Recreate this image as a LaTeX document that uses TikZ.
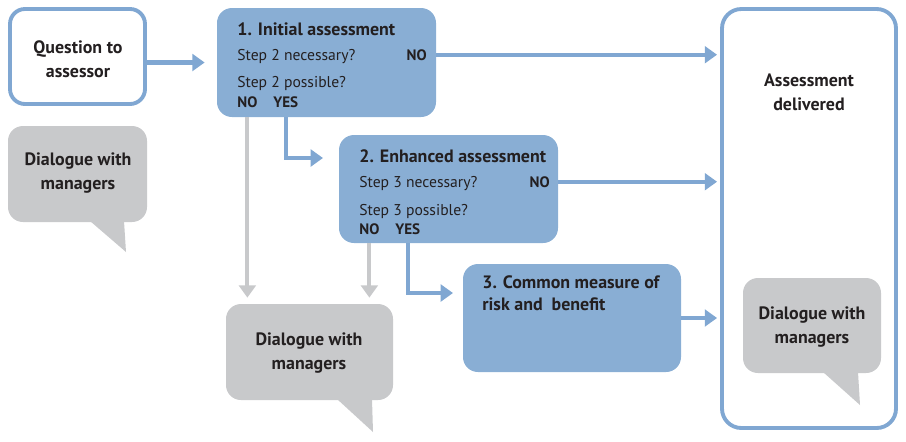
\documentclass[tikz,border=0pt]{standalone}
\usepackage{fontspec}
\setmainfont{PT Sans}
\usetikzlibrary{arrows.meta,fit,calc}
\definecolor{bluef}{RGB}{137,174,212}
\definecolor{blueline}{RGB}{128,167,210}
\definecolor{greyf}{RGB}{200,201,203}
\definecolor{txt}{RGB}{35,31,32}
\tikzset{
  bluebox/.style={fill=bluef, draw=none, rounded corners=8.5pt, inner sep=0pt},
  outbox/.style={fill=white, draw=blueline, line width=2.2pt, rounded corners=8.5pt, inner sep=0pt},
  bigbox/.style={fill=white, draw=blueline, line width=2.2pt, rounded corners=11pt, inner sep=0pt},
  greybox/.style={fill=greyf, draw=none, rounded corners=8.5pt, inner sep=0pt},
  flow/.style={draw=blueline, line width=2.3pt, -{Triangle[length=7pt,width=9.5pt]}},
  greyflow/.style={draw=greyf, line width=2.3pt, -{Triangle[length=7pt,width=9.5pt]}},
  ttl/.style={font=\fontsize{10.2}{12}\selectfont\bfseries, text=txt, anchor=base west, inner sep=0pt},
  stp/.style={font=\fontsize{8.9}{10}\selectfont, text=txt, anchor=base west, inner sep=0pt},
  ans/.style={font=\fontsize{8.6}{10}\selectfont\bfseries, text=txt, anchor=base west, inner sep=0pt},
  lbl/.style={font=\fontsize{10.2}{13.6}\selectfont\bfseries, text=txt, align=center, inner sep=0pt},
}
\begin{document}
\begin{tikzpicture}[x=0.02cm,y=-0.02cm]
\useasboundingbox (0,0) rectangle (906,441);

% boxes
\node[outbox, fit={(10,9) (145,104)}] (q) {};
\node[bluebox, fit={(217,8) (436,117)}] (b1) {};
\node[bluebox, fit={(339,135) (558,243)}] (b2) {};
\node[bluebox, fit={(463,264) (681,372)}] (b3) {};
\node[bigbox, fit={(722,9) (896,428)}] (del) {};

% speech bubbles
\fill[greyf] (90,221) -- (126,252) -- (124,221) -- cycle;
\node[greybox, fit={(8,126) (147,222)}] (dl) {};
\fill[greyf] (337,399) -- (373,432) -- (372,399) -- cycle;
\node[greybox, fit={(226,304) (393,400)}] (dm) {};
\fill[greyf] (823,372) -- (860,405) -- (858,372) -- cycle;
\node[greybox, fit={(743,278) (881,373)}] (dr) {};

% texts
\node[lbl] (qt) at (78,59) {Question to\\assessor};
\node[lbl] (dlt) at (78,173) {Dialogue with\\managers};
\node[lbl] (dmt) at (309,353) {Dialogue with\\managers};
\node[lbl] (drt) at (812,327) {Dialogue with\\managers};
\node[lbl] (delt) at (809,92) {Assessment\\delivered};

\node[ttl] (t1) at (237,35) {1. Initial assessment};
\node[stp] (s1a) at (237,60) {Step 2 necessary?};
\node[ans, anchor=base east] (no1) at (427,60) {NO};
\node[stp] (s1b) at (237,87) {Step 2 possible?};
\node[ans] (nob1) at (237,107) {NO};
\node[ans] (yes1) at (273,107) {YES};

\node[ttl] (t2) at (359,162) {2. Enhanced assessment};
\node[stp] (s2a) at (359,187) {Step 3 necessary?};
\node[ans, anchor=base east] (no2) at (550,187) {NO};
\node[stp] (s2b) at (359,215) {Step 3 possible?};
\node[ans] (nob2) at (359,234) {NO};
\node[ans] (yes2) at (395,234) {YES};

\node[ttl, align=left, anchor=north west, font=\fontsize{10.2}{13}\selectfont\bfseries] (t3) at (482,275) {3. Common measure of\\risk and\ \ benefit};

% connectors
\draw[flow] (q.east |- b1.west) -- ($(b1.west)+(-12,0)$);
\draw[flow] (no1.east -| b1.east) -- ($(no1.east -| del.west)+(-3,0)$);
\draw[flow] (no2.east -| b2.east) -- ($(no2.east -| del.west)+(-3,0)$);
\draw[flow] (b3.east) -- ($(b3.east -| del.west)+(-3,0)$);
\coordinate (tip2) at (323,158);
\draw[flow] (yes1.center |- b1.south) |- (tip2);
\coordinate (tip3) at (453,293);
\draw[flow] (yes2.center |- b2.south) |- (tip3);
\draw[greyflow] (nob1.center |- b1.south) -- ($(nob1.center |- dm.north)+(0,-6)$);
\draw[greyflow] (nob2.center |- b2.south) -- ($(nob2.center |- dm.north)+(0,-6)$);
\end{tikzpicture}
\end{document}
